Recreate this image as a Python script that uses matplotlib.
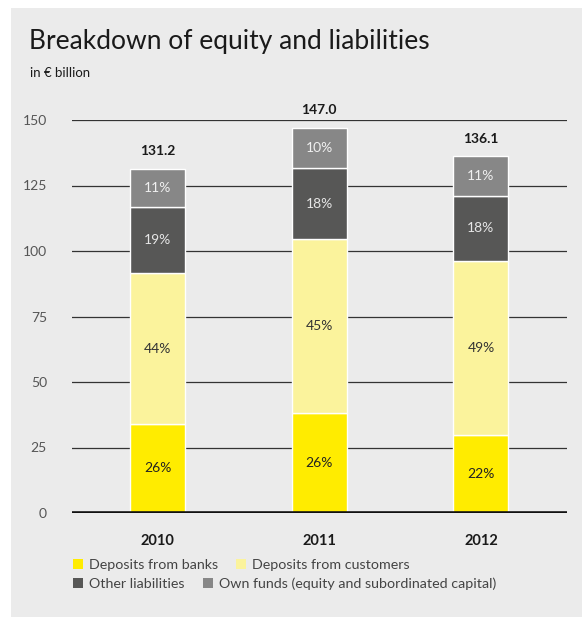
import matplotlib
matplotlib.use('Agg')
import matplotlib.pyplot as plt
import numpy as np

plt.rcParams['font.family'] = ['Lato', 'DejaVu Sans']

years = ['2010', '2011', '2012']
totals = [131.2, 147.0, 136.1]

# amounts in EUR billion, bottom to top
banks = [34.0, 38.0, 29.8]
customers = [57.5, 66.5, 66.3]
other = [25.2, 27.2, 25.0]
own_funds = [14.5, 15.3, 15.0]

# shares shown inside the segments
banks_pct = ['26%', '26%', '22%']
customers_pct = ['44%', '45%', '49%']
other_pct = ['19%', '18%', '18%']
own_pct = ['11%', '10%', '11%']

labels = ['Deposits from banks', 'Deposits from customers',
          'Other liabilities', 'Own funds (equity and subordinated capital)']
colors = ['#ffec00', '#fbf39c', '#575756', '#878787']
text_colors = ['#222222', '#333333', '#e6e6e6', '#f0f0f0']

BG = '#ebebeb'

fig = plt.figure(figsize=(5.82, 6.17), dpi=100)
fig.patch.set_facecolor('white')
# grey panel behind everything
fig.patches.append(plt.Rectangle((11 / 582, 0.0), 1.0, (617 - 8) / 617,
                                 transform=fig.transFigure, facecolor=BG,
                                 edgecolor='none', zorder=-10))

ax = fig.add_axes([72 / 582, (617 - 513) / 617, (567 - 72) / 582, 393 / 617])
ax.set_facecolor(BG)
ax.patch.set_alpha(0)

x = np.arange(len(years))
width = 0.34
series = [banks, customers, other, own_funds]
pcts = [banks_pct, customers_pct, other_pct, own_pct]

bottom = np.zeros(len(years))
handles = []
for vals, col, tcol, pct, lab in zip(series, colors, text_colors, pcts, labels):
    vals = np.array(vals)
    b = ax.bar(x, vals, width, bottom=bottom, color=col, edgecolor='white',
               linewidth=1.0, zorder=3, label=lab)
    handles.append(b)
    for xi, v, bt, p in zip(x, vals, bottom, pct):
        ax.text(xi, bt + v / 2, p, ha='center', va='center', fontsize=10,
                color=tcol, zorder=4)
    bottom += vals

for xi, t in zip(x, totals):
    ax.text(xi, t + 4.5, f'{t:.1f}', ha='center', va='bottom', fontsize=10,
            fontweight='bold', color='#1a1a1a', clip_on=False)

ax.set_xlim(-0.529, 2.532)
ax.set_ylim(0, 150)
ax.set_yticks(np.arange(0, 151, 25))
for yv in np.arange(25, 151, 25):
    ax.axhline(yv, color='#333333', linewidth=0.9, zorder=1)
ax.axhline(0, color='#111111', linewidth=2.6, zorder=5)

for s in ax.spines.values():
    s.set_visible(False)
ax.tick_params(axis='y', length=0, pad=18, labelsize=10, labelcolor='#555555')
ax.tick_params(axis='x', length=0, pad=15, labelsize=10.5, labelcolor='#1a1a1a')
ax.set_xticks(x)
ax.set_xticklabels(years, fontweight='bold')

fig.text(29 / 582, 1 - 42 / 617, 'Breakdown of equity and liabilities',
         fontsize=19, color='#1a1a1a', va='center', ha='left')
fig.text(30 / 582, 1 - 73 / 617, 'in € billion', fontsize=9.5,
         color='#1a1a1a', va='center', ha='left')

leg_kw = dict(frameon=False, ncol=2, fontsize=10.3, handlelength=0.7,
              handleheight=0.7, handletextpad=0.4, columnspacing=1.3,
              borderpad=0, borderaxespad=0, labelcolor='#444444')
leg1 = fig.legend(handles[:2], labels[:2], loc='center left',
                  bbox_to_anchor=(73 / 582, 1 - 565 / 617), **leg_kw)
leg2 = fig.legend(handles[2:], labels[2:], loc='center left',
                  bbox_to_anchor=(73 / 582, 1 - 584 / 617), **leg_kw)
for leg in (leg1, leg2):
    for h in leg.legend_handles:
        h.set_edgecolor('none')

fig.savefig('out.png', dpi=100, facecolor=fig.get_facecolor())
